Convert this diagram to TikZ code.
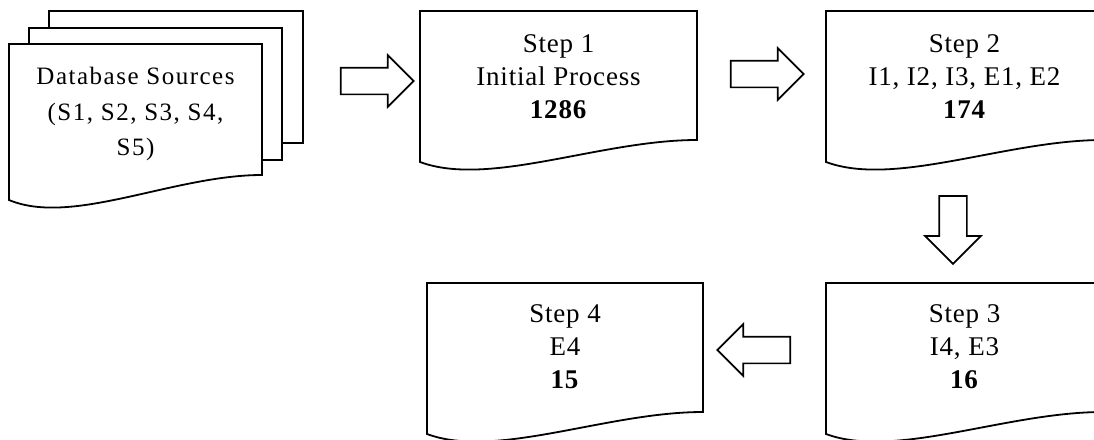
\documentclass[tikz,border=0pt]{standalone}
\usepackage{fontspec}
\setmainfont[LetterSpace=3]{Liberation Serif}
\newfontfamily\dbfont[LetterSpace=6]{Liberation Serif}
\usetikzlibrary{shapes.arrows}
\tikzset{docline/.style={draw=black,line width=1.8pt,fill=white}}
\tikzset{steptext/.style={align=center,inner sep=0pt,anchor=north,font=\fontsize{27}{33}\selectfont}}
\tikzset{dbtext/.style={align=center,inner sep=0pt,anchor=north,font=\dbfont\fontsize{25}{35.5}\selectfont}}
\tikzset{blockarrow/.style={single arrow,draw=black,line width=1.7pt,fill=white,single arrow head extend=12.5pt,inner sep=12.5pt,text height=0pt,text depth=0pt,minimum height=73pt,single arrow tip angle=90}}
% document outline: left, top, width, height, rise of the right corner
\newcommand{\docpath}[5]{%
\path[docline] (#1,#2) -- ({#1+#3},#2) -- ({#1+#3},{#2+#4-#5})
  .. controls ({#1+0.65*#3},{#2+#4-#5}) and ({#1+0.25*#3},{#2+1.17*#4}) .. (#1,{#2+#4}) -- cycle;}

\begin{document}
\begin{tikzpicture}[x=1pt,y=-1pt]
% \draw[help lines] (0,0) grid (1094,439);
\useasboundingbox (0,0) rectangle (1094,439);
%
\path[docline] (49,11) rectangle (303,143);
\path[docline] (29,28) rectangle (282,160);
\docpath{9}{44}{253}{156}{25}
\node (db) [dbtext] at (135.5,67) {Database Sources\\(S1, S2, S3, S4,\\S5)};
%
\docpath{420}{11}{277}{151}{22}
\node (s1) [steptext] at (558.5,34) {Step 1\\Initial Process\\\textbf{1286}};
\docpath{826}{11}{277}{151}{22}
\node (s2) [steptext] at (964.5,34) {Step 2\\I1, I2, I3, E1, E2\\\textbf{174}};
\docpath{826}{283}{277}{151}{22}
\node (s3) [steptext] at (964.5,304) {Step 3\\I4, E3\\\textbf{16}};
\docpath{427}{283}{276}{151}{22}
\node (s4) [steptext] at (565,304) {Step 4\\E4\\\textbf{15}};
%
\node (a1) [blockarrow] at (370.5,81) {};
\node (a2) [blockarrow] at (760.5,74) {};
\node (a3) [blockarrow,rotate=-90,inner sep=13pt,single arrow head extend=14pt,minimum height=68pt] at (953,223) {};
\node (a4) [blockarrow,rotate=180] at (760.5,350) {};
\end{tikzpicture}
\end{document}
